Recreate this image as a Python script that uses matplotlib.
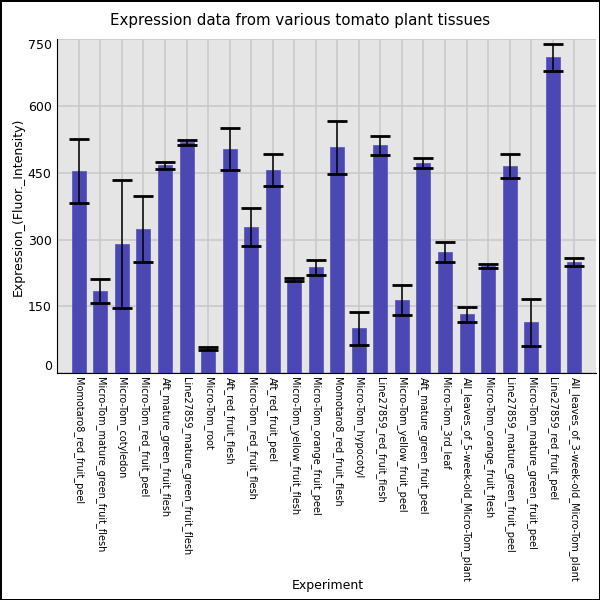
import matplotlib
matplotlib.use("Agg")
import matplotlib.pyplot as plt
import numpy as np

experiments = [
    "Momotaro8_red_fruit_peel",
    "Micro-Tom_mature_green_fruit_flesh",
    "Micro-Tom_cotyledon",
    "Micro-Tom_red_fruit_peel",
    "Aft_mature_green_fruit_flesh",
    "Line27859_mature_green_fruit_flesh",
    "Micro-Tom_root",
    "Aft_red_fruit_flesh",
    "Micro-Tom_red_fruit_flesh",
    "Aft_red_fruit_peel",
    "Micro-Tom_yellow_fruit_flesh",
    "Micro-Tom_orange_fruit_peel",
    "Momotaro8_red_fruit_flesh",
    "Micro-Tom_hypocotyl",
    "Line27859_red_fruit_flesh",
    "Micro-Tom_yellow_fruit_peel",
    "Aft_mature_green_fruit_peel",
    "Micro-Tom_3rd_leaf",
    "All_leaves_of_5-week-old_Micro-Tom_plant",
    "Micro-Tom_orange_fruit_flesh",
    "Line27859_mature_green_fruit_peel",
    "Micro-Tom_mature_green_fruit_peel",
    "Line27859_red_fruit_peel",
    "All_leaves_of_3-week-old_Micro-Tom_plant",
]
values = [453, 184, 290, 323, 467, 518, 55, 503, 328, 455, 210, 238,
          507, 101, 511, 164, 471, 272, 132, 240, 464, 114, 709, 249]
errors = [72, 27, 144, 74, 8, 5, 3, 47, 43, 36, 4, 17,
          60, 37, 21, 33, 11, 22, 17, 5, 27, 53, 30, 9]
yticks = [0, 150, 300, 450, 600, 750]

fig = plt.figure(figsize=(6, 6), dpi=100)
fig.patch.set_facecolor("white")
fig.patch.set_edgecolor("black")
fig.patch.set_linewidth(1.0)

ax = fig.add_axes([0.0955, 0.378, 0.8975, 0.557])
ax.set_facecolor("#e5e5e5")
x = np.arange(len(experiments))
ax.set_axisbelow(True)
ax.grid(True, color="#c8c8c8", linewidth=1.1)
ax.bar(x, values, width=0.65, color="#4b47b3", edgecolor="#5f5cbf", linewidth=0.6, zorder=2)
ax.errorbar(x, values, yerr=errors, fmt="none", ecolor="black", elinewidth=1.1,
            capsize=7, capthick=2, zorder=3)

ax.set_xlim(-1, len(experiments))
ax.set_ylim(0, 750)
ax.set_yticks(yticks)
ax.set_yticklabels([str(v) for v in yticks], fontsize=9)
ax.set_xticks(x)
ax.set_xticklabels(experiments, rotation=-90, fontsize=7, va="top", ha="center")
ax.tick_params(axis="both", length=0, pad=3)
ax.tick_params(axis="y", pad=4)

labs = ax.get_yticklabels()
labs[0].set_va("bottom")
labs[-1].set_va("top")

for s in ["top", "right"]:
    ax.spines[s].set_visible(False)
ax.spines["left"].set_color("black")
ax.spines["bottom"].set_color("black")

fig.text(0.5, 0.966, "Expression data from various tomato plant tissues",
         ha="center", va="center", fontsize=10.8)
fig.text(0.03, 0.656, "Expression_(Fluor._Intensity)", rotation=90,
         ha="center", va="center", fontsize=9)
fig.text(0.546, 0.025, "Experiment", ha="center", va="center", fontsize=9)

fig.savefig("out.png", dpi=100)
